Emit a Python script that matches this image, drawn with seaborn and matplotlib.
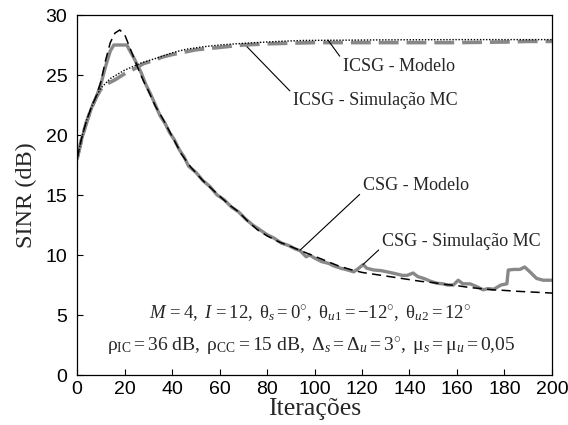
import matplotlib
matplotlib.use("Agg")
import matplotlib.pyplot as plt
import seaborn as sns
import pandas as pd

# --- CSG: analytical model ---
csg_model_it = [0, 2, 4, 6, 8, 10, 12, 14, 16, 18, 20, 22, 24, 26, 28, 30, 33, 36, 40, 44,
                48, 53, 59, 64, 68, 72, 76, 80, 85, 90, 95, 100, 105, 110, 115, 120, 125,
                130, 135, 140, 145, 150, 155, 160, 165, 170, 175, 180, 185, 190, 195, 200]
csg_model_db = [18.0, 19.8, 21.2, 22.3, 23.2, 24.4, 26.2, 27.7, 28.5, 28.75, 28.4, 27.4, 26.4,
                25.4, 24.5, 23.7, 22.4, 21.4, 19.9, 18.4, 17.3, 16.2, 15.1, 14.2, 13.6, 12.8,
                12.1, 11.6, 11.1, 10.7, 10.3, 9.9, 9.5, 9.1, 8.8, 8.55, 8.4, 8.25, 8.1, 7.95,
                7.8, 7.7, 7.55, 7.45, 7.3, 7.2, 7.1, 7.05, 6.98, 6.93, 6.88, 6.83]

# --- CSG: Monte Carlo simulation ---
csg_mc_it = [0, 2, 4, 6, 8, 10, 12, 14, 15.5, 21, 22, 24, 27, 29, 31, 33, 35, 37, 39, 41, 43,
             45, 47, 50, 53, 56, 59, 62, 65, 68, 71, 74, 77, 80, 83, 86, 89, 92, 94, 96.5, 98,
             100, 103, 106, 108, 111, 114, 116.5, 118, 120.5, 122, 125, 128, 130.5, 134, 137,
             139, 141.5, 143.5, 146, 149, 151.5, 154, 156, 158.5, 160.5, 162.5, 165.5, 168.5,
             171, 173, 175.5, 178.5, 181, 181.6, 184, 186.5, 188.5, 190.7, 193.5, 196.3, 200]
csg_mc_db = [18.0, 19.7, 21.0, 22.2, 23.1, 24.2, 25.7, 27.0, 27.5, 27.5, 27.1, 26.4, 25.2,
             24.2, 23.4, 22.5, 21.6, 21.0, 20.2, 19.6, 18.8, 18.2, 17.4, 16.9, 16.2, 15.7,
             15.0, 14.6, 14.0, 13.6, 13.0, 12.5, 12.1, 11.7, 11.4, 11.0, 10.8, 10.5, 10.35,
             9.85, 10.0, 9.75, 9.45, 9.3, 9.1, 8.9, 8.75, 8.6, 8.8, 9.2, 8.9, 8.75, 8.7, 8.6,
             8.45, 8.3, 8.3, 8.5, 8.2, 8.05, 7.8, 7.65, 7.6, 7.5, 7.5, 7.9, 7.6, 7.6, 7.35,
             7.1, 7.2, 7.15, 7.5, 7.6, 8.75, 8.8, 8.8, 9.0, 8.6, 8.05, 7.9, 7.9]

# --- ICSG: analytical model ---
icsg_model_it = [0, 2, 4, 6, 8, 10, 14, 20, 27, 35, 40, 46, 53, 60, 67, 75, 85, 95, 110, 130,
                 160, 200]
icsg_model_db = [18.0, 19.8, 21.2, 22.3, 23.2, 23.9, 24.7, 25.4, 26.0, 26.5, 26.85, 27.15,
                 27.35, 27.5, 27.6, 27.7, 27.8, 27.88, 27.9, 27.93, 27.95, 27.95]

# --- ICSG: Monte Carlo simulation ---
icsg_mc_it = [0, 2, 4, 6, 8, 10, 12, 16, 20, 24, 28, 32, 36, 40, 45, 50, 55, 60, 65, 70, 80,
              90, 100, 120, 140, 160, 180, 190, 200]
icsg_mc_db = [18.0, 19.7, 21.1, 22.2, 23.1, 23.8, 24.2, 24.6, 25.1, 25.5, 25.95, 26.2, 26.5,
              26.7, 26.9, 27.1, 27.2, 27.3, 27.4, 27.5, 27.6, 27.65, 27.7, 27.7, 27.7, 27.7,
              27.75, 27.8, 27.8]

curve_names = ["CSG - Modelo", "CSG - Simulação MC", "ICSG - Modelo", "ICSG - Simulação MC"]

x_ticks = [0, 20, 40, 60, 80, 100, 120, 140, 160, 180, 200]
y_ticks = [0, 5, 10, 15, 20, 25, 30]

sns.set_theme(style="ticks")
plt.rcParams["mathtext.fontset"] = "custom"
plt.rcParams["mathtext.rm"] = "Liberation Serif"
plt.rcParams["mathtext.it"] = "Liberation Serif:italic"
plt.rcParams["font.family"] = ["Liberation Sans", "DejaVu Sans"]

GREY = "#888888"
SERIF = "Liberation Serif"

fig = plt.figure(figsize=(5.68, 4.25), dpi=100)
ax = fig.add_axes([0.1356, 0.1176, 0.8362, 0.8471])

frames = {
    curve_names[0]: pd.DataFrame({"it": csg_model_it, "sinr": csg_model_db}),
    curve_names[1]: pd.DataFrame({"it": csg_mc_it, "sinr": csg_mc_db}),
    curve_names[2]: pd.DataFrame({"it": icsg_model_it, "sinr": icsg_model_db}),
    curve_names[3]: pd.DataFrame({"it": icsg_mc_it, "sinr": icsg_mc_db}),
}

# Simulated curves first (thick grey), models on top (thin black)
sns.lineplot(data=frames[curve_names[3]], x="it", y="sinr", ax=ax, color=GREY, lw=2.6,
             linestyle=(0, (5.5, 2.2)), sort=False, zorder=2)
sns.lineplot(data=frames[curve_names[1]], x="it", y="sinr", ax=ax, color=GREY, lw=2.4,
             sort=False, zorder=2)
sns.lineplot(data=frames[curve_names[0]], x="it", y="sinr", ax=ax, color="black", lw=1.1,
             linestyle=(0, (6, 3.5)), sort=False, zorder=3)
sns.lineplot(data=frames[curve_names[2]], x="it", y="sinr", ax=ax, color="black", lw=1.0,
             linestyle=(0, (1, 1.2)), sort=False, zorder=3)

ax.set_xlim(0, 200)
ax.set_ylim(0, 30)
ax.set_xticks(x_ticks)
ax.set_yticks(y_ticks)
ax.tick_params(direction="in", length=4, width=0.8, labelsize=14,
               top=False, right=False, colors="black")
ax.tick_params(axis="x", pad=4)
ax.tick_params(axis="y", pad=7)
for sp in ax.spines.values():
    sp.set_visible(True)
    sp.set_color("black")
    sp.set_linewidth(0.9)

ax.set_xlabel("Iterações", fontfamily=SERIF, fontsize=18.5, labelpad=0)
ax.set_ylabel("SINR (dB)", fontfamily=SERIF, fontsize=17.5, labelpad=6)

line_kw = dict(arrowstyle="-", lw=0.8, color="black", shrinkA=0, shrinkB=0)
txt_kw = dict(fontfamily=SERIF, fontsize=13, ha="left", va="center")

ax.annotate(curve_names[2], xy=(105.7, 27.9), xytext=(112, 25.7),
            arrowprops=dict(relpos=(0.0, 0.85), **line_kw), **txt_kw)
ax.annotate(curve_names[3], xy=(71.6, 27.35), xytext=(91, 22.9),
            arrowprops=dict(relpos=(0.0, 0.85), **line_kw), **txt_kw)
ax.annotate(curve_names[0], xy=(93.9, 10.4), xytext=(120.4, 15.8),
            arrowprops=dict(relpos=(0.0, 0.15), **line_kw), **txt_kw)
ax.annotate(curve_names[1], xy=(120.4, 9.2), xytext=(128.4, 11.1),
            arrowprops=dict(relpos=(0.0, 0.2), **line_kw), **txt_kw)

param_line1 = (r"$M\, = 4,\ I\, = 12,\ \mathrm{\theta}_s = 0^{\circ},\ "
               r"\mathrm{\theta}_{u\mathrm{1}} = -12^{\circ},\ \mathrm{\theta}_{u\mathrm{2}} = 12^{\circ}$")
param_line2 = (r"$\mathrm{\rho}_{\mathrm{IC}} = 36\ \mathrm{dB},\ \mathrm{\rho}_{\mathrm{CC}} = 15\ \mathrm{dB},\ "
               r"\mathrm{\Delta}_s = \mathrm{\Delta}_u = 3^{\circ},\ \mathrm{\mu}_s = \mathrm{\mu}_u = 0{,}05$")
ax.text(98, 5.2, param_line1, fontsize=13.5, ha="center", va="center")
ax.text(98.5, 2.35, param_line2, fontsize=14, ha="center", va="center")

fig.savefig("out.png", dpi=100)
